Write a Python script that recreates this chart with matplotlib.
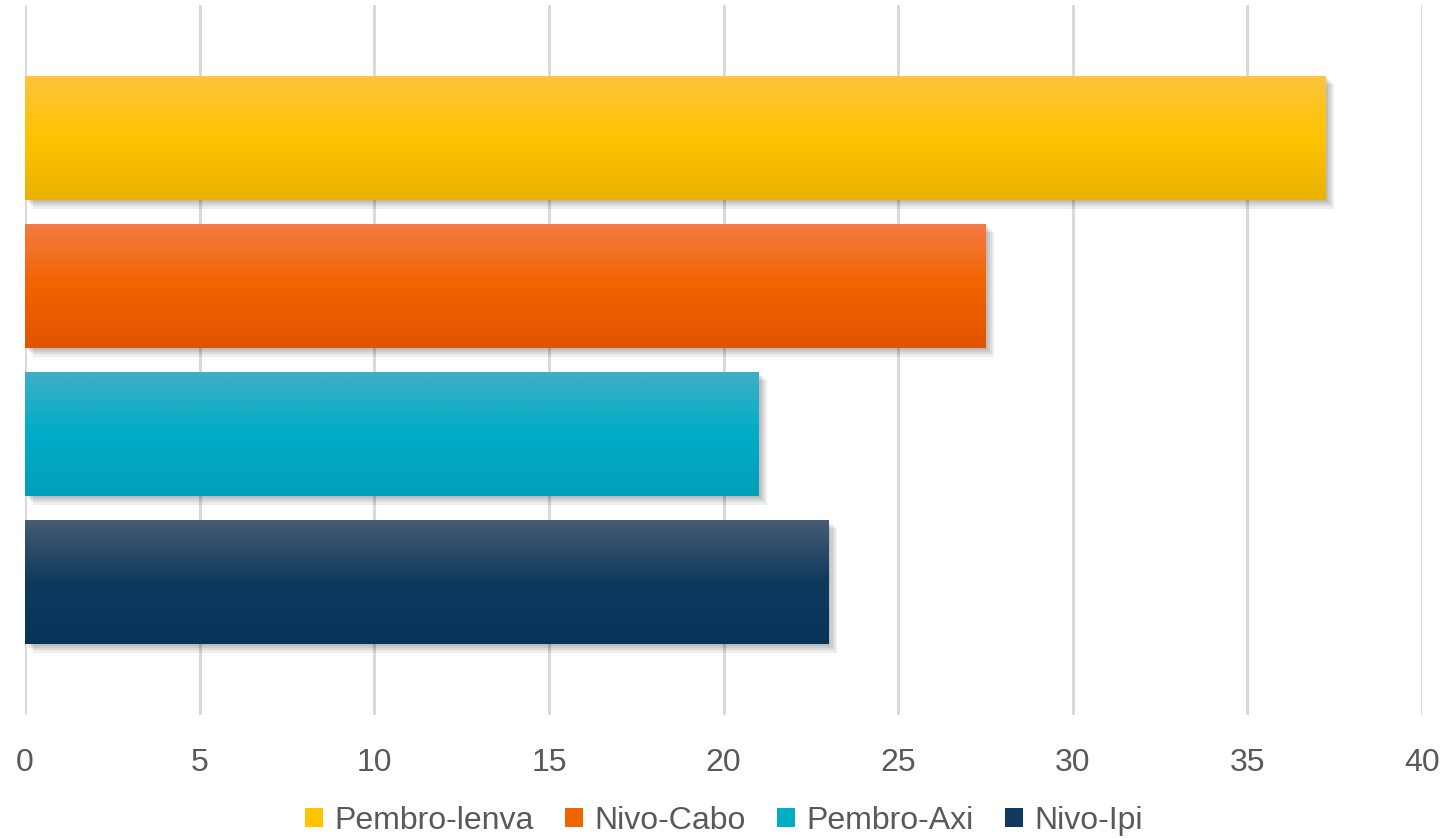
import matplotlib
matplotlib.use("Agg")
import matplotlib.pyplot as plt
import matplotlib.patheffects as pe
import numpy as np
from matplotlib.colors import LinearSegmentedColormap
from matplotlib.patches import Patch

series = ["Pembro-lenva", "Nivo-Cabo", "Pembro-Axi", "Nivo-Ipi"]
values = [37.25, 27.5, 21.0, 23.0]
x_ticks = [0, 5, 10, 15, 20, 25, 30, 35, 40]

# top / middle / bottom shades of each bar's gradient
shades = [
    ("#fdc540", "#ffc300", "#e8b200"),
    ("#f47b45", "#f26300", "#e05400"),
    ("#42afc6", "#00acc6", "#009fb9"),
    ("#485c74", "#0e3a5e", "#09345a"),
]

plt.rcParams["font.family"] = ["Liberation Sans", "DejaVu Sans"]
text_color = "#595959"

fig = plt.figure(figsize=(14.48, 8.39), dpi=100)
ax = fig.add_axes([0.0173, 0.148, 0.9648, 0.846])

step = 0.2085
height = 0.1754
offsets = (1.5 - np.arange(len(series))) * step

# soft drop shadow built from a few stacked offsets
soft_shadow = [pe.SimplePatchShadow(offset=(d, -d), shadow_rgbFace="#000000", alpha=0.07)
               for d in (1.5, 3, 4.5, 6)] + [pe.Normal()]

grad = np.linspace(0, 1, 256).reshape(-1, 1)
for val, off, (top, mid, bot) in zip(values, offsets, shades):
    bar = ax.barh(off, val, height=height, color=mid, zorder=3,
                  path_effects=soft_shadow)[0]
    cmap = LinearSegmentedColormap.from_list("g", [top, mid, bot])
    img = ax.imshow(grad, cmap=cmap, aspect="auto", zorder=4,
                    extent=(0, val, off - height / 2, off + height / 2),
                    origin="upper")
    img.set_clip_path(bar)

ax.set_xlim(0, 40)
ax.set_ylim(-0.5, 0.5)
ax.set_xticks(x_ticks)
ax.set_yticks([])
ax.grid(axis="x", color="#d9d9d9", linewidth=2.2, zorder=0)
ax.set_axisbelow(True)
for s in ax.spines.values():
    s.set_visible(False)
ax.tick_params(axis="x", length=0, pad=24, labelsize=23, labelcolor=text_color)

handles = [Patch(facecolor=s[1], edgecolor="none") for s in shades]
fig.legend(handles, series, loc="center", bbox_to_anchor=(0.5, 0.022), ncol=4,
           frameon=False, fontsize=23, labelcolor=text_color,
           handlelength=0.55, handleheight=0.55, handletextpad=0.35, columnspacing=1.0)

fig.savefig("out.png", dpi=100)
